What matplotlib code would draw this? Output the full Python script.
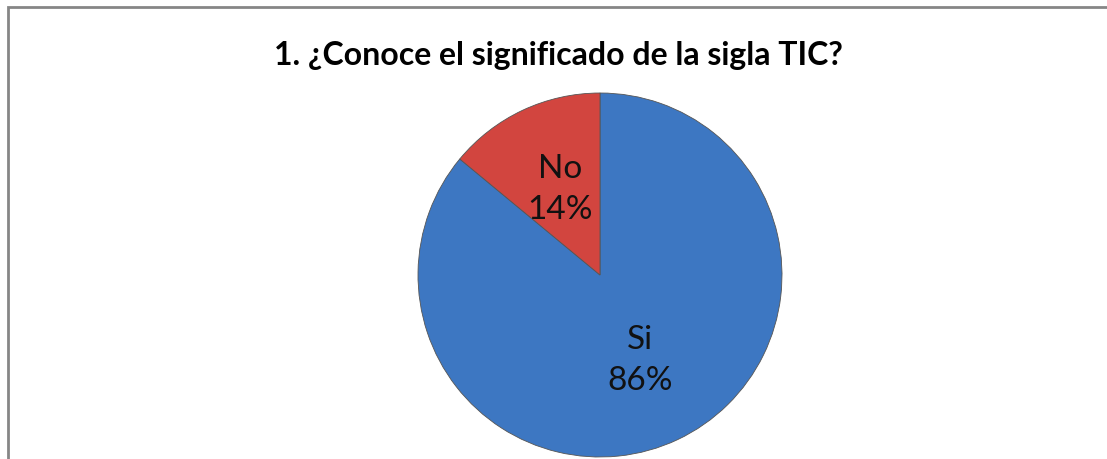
import matplotlib.pyplot as plt
from matplotlib.patches import Rectangle

categories = ['Si', 'No']
values = [86, 14]
colors = ['#3D77C2', '#D2453F']
title = '1. ¿Conoce el significado de la sigla TIC?'

plt.rcParams['font.family'] = ['Lato', 'DejaVu Sans']

W, H = 1107, 459
fig = plt.figure(figsize=(W / 100, H / 100), dpi=100)

# chart frame (only top and left edges visible in the crop)
fig.patches.append(Rectangle((8 / W, -0.1), 1.2, (H - 7) / H + 0.1,
                             transform=fig.transFigure, fill=False,
                             edgecolor='#868686', linewidth=2))

cx, cy, r = 600, 275, 182
ax = fig.add_axes([(cx - r) / W, (H - cy - r) / H, 2 * r / W, 2 * r / H])
labels = [f'{c}\n{v}%' for c, v in zip(categories, values)]
wedges, texts = ax.pie(values, labels=labels, colors=colors, startangle=90,
                       counterclock=False, labeldistance=0.52,
                       wedgeprops=dict(edgecolor='#555555', linewidth=0.6),
                       textprops=dict(fontsize=24, ha='center', va='center',
                                      linespacing=1.45, color='#111111'))
ax.set_xlim(-1, 1)
ax.set_ylim(-1, 1)
ax.set_aspect('equal')

fig.text(558 / W, 1 - 55 / H, title, ha='center', va='center',
         fontsize=23, fontweight='bold')

fig.savefig('out.png', dpi=100)
